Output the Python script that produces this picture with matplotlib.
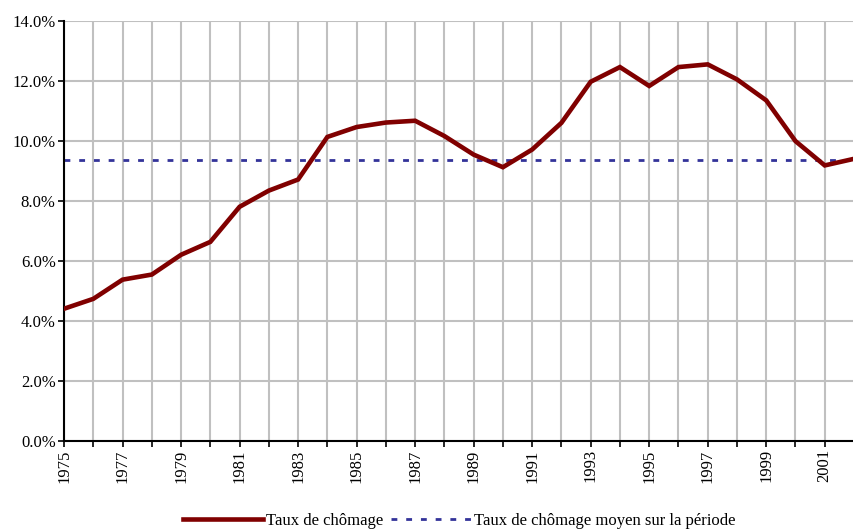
import matplotlib.pyplot as plt
from matplotlib.ticker import FuncFormatter

plt.rcParams['font.family'] = ['Liberation Serif', 'DejaVu Serif']

years = list(range(1975, 2003))
taux = [4.41, 4.74, 5.38, 5.55, 6.21, 6.64, 7.81, 8.35, 8.72, 10.14,
        10.47, 10.62, 10.68, 10.17, 9.55, 9.13, 9.72, 10.61, 11.98, 12.47,
        11.84, 12.47, 12.56, 12.06, 11.36, 10.00, 9.19, 9.41]
moyenne = 9.37

fig = plt.figure(figsize=(8.54, 5.30), dpi=100)
ax = fig.add_axes([0.075, 0.168, 0.925, 0.792])

ax.plot(years, taux, color='#800000', linewidth=3.3, solid_joinstyle='miter',
        label='Taux de chômage', zorder=3)
ax.plot(years, [moyenne] * len(years), color='#333399', linewidth=2,
        linestyle=(0, (2.1, 3.2)), label='Taux de chômage moyen sur la période', zorder=2)

ax.set_xlim(1975, 2002)
ax.set_ylim(0, 14)
ax.set_xticks(years)
ax.set_xticklabels([str(y) if (y - 1975) % 2 == 0 else '' for y in years], rotation=90)
ax.set_yticks(range(0, 15, 2))
ax.yaxis.set_major_formatter(FuncFormatter(lambda v, p: '%.1f%%' % v))

ax.grid(True, color='#c0c0c0', linewidth=1.5)
ax.set_axisbelow(True)
for s in ['top', 'right']:
    ax.spines[s].set_visible(False)
ax.spines['left'].set_linewidth(1.5)
ax.spines['bottom'].set_linewidth(1.5)
ax.tick_params(axis='both', direction='out', length=4, width=1.2, labelsize=12,
               colors='black', pad=2)

fig.legend(loc='lower center', bbox_to_anchor=(0.538, -0.027), ncol=2, frameon=False,
           fontsize=12, handlelength=4.8, columnspacing=0.5, handletextpad=0.15)

fig.savefig('out.png', dpi=100)
